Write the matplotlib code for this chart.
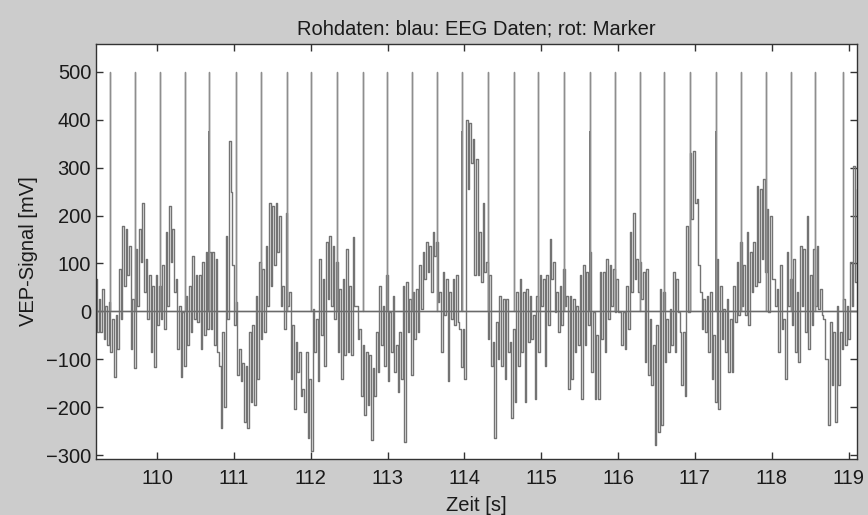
import numpy as np
import matplotlib
matplotlib.use("Agg")
import matplotlib.pyplot as plt

plt.rcParams['font.family'] = ['Liberation Sans', 'DejaVu Sans']

# marker (stimulus) times in s, markers drawn as 0 -> 500 pulses
marker_times = [109.388, 109.714, 110.035, 110.365, 110.681, 111.029, 111.354,
                111.689, 112.001, 112.340, 112.679, 112.991, 113.320, 113.642,
                113.972, 114.310, 114.649, 114.961, 115.291, 115.634, 115.964,
                116.285, 116.602, 116.931, 117.275, 117.604, 117.921, 118.251,
                118.568, 118.923]
marker_height = 500

# stimulus artefacts in the EEG channel
spike_times = [110.681, 113.972, 115.634, 117.275]
spike_height = [376, 376, 376, 376]

eeg_high = [68, 26, 47, 12, 19, -15, -8, 89, 179, 172, 137, 26, 130, 172, 227, 109, 75, 54, 75, 54,
            96, 165, 220, 172, 68, 12, -1, 33, 54, 116, 75, 75, 103, 123, 123, 123, 109, -113,
            -43, 158, 355, 96, 19, -78, -107, -113, -43, -29, 33, 103, 89, 137, 227, 220, 227, 200,
            54, 206, 40, -29, -64, -85, -161, -85, -140, 5, -15, 109, 68, 144, 158, 137, 103, 47, 68, 130,
            54, 155, 12, -36, -71, -85, -92, -119, -43, 54, 12, 75, -1, 33, -71, -43, 54, 61, 26, 40,
            47, 96, 123, 144, 137, 165, 144, 40, 82, 68, 40, 68, 75, -36, -36, 400, 394, 359,
            317, 165, 227, 103, 75, -64, -22, 33, 26, 26, -64, -36, 40, 68, 40, 47, 33, -8, 33, 75,
            68, 75, 151, 103, 40, 54, 89, 33, 33, 26, 12, 75, 96, 82, 123, -1, -50, 82,
            82, 109, 96, 89, 68, -1, -1, 54, 165, 206, 109, 103, 82, 89, -15, -71, -29, 47, 40, -15,
            5, 82, 68, -43, -43, 179, 331, 335, 234, 40, 26, 33, 40, -50, 109, 54, 5, 26,
            -15, 54, 103, 144, 96, 165, 123, 144, 262, 255, 276, 213, 200, 68, 47, 96, -15, 123, 68, 109,
            40, 137, 130, 200, 75, 130, 137, 47, -15, -99, -22, -43, 12, -43, 26, 12, 103, 303, 255]
eeg_low = [-43, -43, -57, -71, -85, -137, -78, -15, 54, 75, -78, -119, 12, 103, 40, -15, -85, -116, -29, -15,
           -36, 12, 103, 40, -78, -137, -113, -71, -43, -15, -22, -78, -50, -36, -36, -71, -85, -244,
           -200, -15, 250, -29, -133, -146, -230, -244, -189, -196, -140, -57, -43, 12, 54, 96, 123, 12,
           -36, 12, -140, -203, -126, -176, -209, -265, -292, -85, -146, -50, -113, 26, 12, -15, -85, -140, -92, -85,
           -92, 12, -57, -176, -216, -196, -268, -176, -126, -71, -113, -146, -85, -126, -168, -140, -272, -43, -133, -57,
           -43, 5, 68, 82, 40, 116, 19, -85, -8, -146, -15, -29, -22, -116, -140, 255, 310, 75,
           75, 61, 82, -57, -113, -265, -99, -113, -140, -85, -223, -189, -113, -85, -189, -64, -57, -182, -85, 12,
           -113, -29, 68, -1, -43, -29, 12, -161, -140, -85, -71, -182, -71, -29, -126, -182, -182, -57,
           -85, -15, 12, -1, -1, -71, -78, -36, 40, 68, 40, 26, -105, -133, -154, -279, -251, -237, -105, -85,
           -71, -85, -1, -154, -176, -1, 193, 227, 96, -36, -43, -85, -140, -189, -203, -57, -85, -126,
           -126, -22, -8, 12, -8, -29, 40, 54, 61, 109, 82, -1, 68, 12, -85, -36, -140, 12, -29, -85,
           -105, 12, -43, -78, -29, 12, 5, -8, -99, -237, -154, -230, -154, -78, -71, -57, 12, 61, 158]

t_start, t_end = 109.21, 119.14

eeg = np.empty(2 * len(eeg_high))
eeg[0::2] = eeg_high
eeg[1::2] = eeg_low
t = np.linspace(t_start, t_end, len(eeg))

# marker channel: zero line with a pulse at every marker
mt = np.concatenate([[108.0], np.repeat(marker_times, 3), [120.0]])
mv = np.concatenate([[0], np.tile([0, marker_height, 0], len(marker_times)), [0]])

fig = plt.figure(figsize=(8.68, 5.15), dpi=100, facecolor='#cccccc')
ax = fig.add_axes([0.1106, 0.1087, 0.8767, 0.8059])

ax.plot(t, eeg, color='#737373', lw=1.0, drawstyle='steps-mid')
ax.vlines(spike_times, 0, spike_height, color='#4a4a4a', lw=1.1)
ax.plot(mt, mv, color='#8e8e8e', lw=1.0)
ax.axhline(0, color='#6a6a6a', lw=1.0)

ax.set_xlim(109.206, 119.11)
ax.set_ylim(-308, 558)
ax.set_xticks(range(110, 120))
ax.set_yticks(range(-300, 501, 100))

for s in ax.spines.values():
    s.set_color('#333333')
    s.set_linewidth(1.0)
ax.tick_params(direction='in', top=True, right=True, length=5, width=1,
               color='#333333', labelsize=14.5, labelcolor='#1a1a1a')
ax.tick_params(axis='x', pad=7)

ax.set_title('Rohdaten: blau: EEG Daten; rot: Marker', fontsize=14.5, color='#1a1a1a', pad=7)
ax.set_xlabel('Zeit [s]', fontsize=14.5, color='#1a1a1a', labelpad=6)
ax.set_ylabel('VEP-Signal [mV]', fontsize=14.5, color='#1a1a1a', labelpad=6)

fig.savefig('out.png', dpi=100, facecolor=fig.get_facecolor())
